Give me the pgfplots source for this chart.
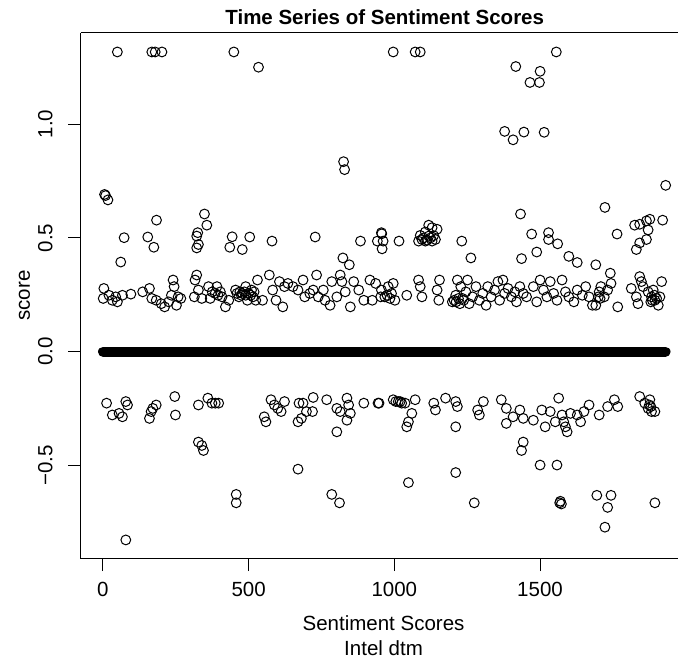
\documentclass[border=0pt]{standalone}
\usepackage{fontspec}
\setmainfont{Liberation Sans}
\usepackage{graphicx}
\usepackage{pgfplots}
\pgfplotsset{compat=1.18}
\newcommand\rfont{\fontsize{10.25}{12.5}\selectfont}

\begin{document}
\begin{tikzpicture}
% page = the 678x660 px frame, 1 px = 0.5 pt
\useasboundingbox (-40.35pt,-50.65pt) rectangle (298.65pt,279.35pt);
\begin{axis}[
    at={(0,0)}, anchor=south west,
    scale only axis,
    width=298.65pt, height=263.1pt,
    xmin=-76.2, xmax=1973.4,
    ymin=-0.9095, ymax=1.4025,
    axis x line=box,
    axis y line=left,
    every non boxed y axis/.append style={y axis line style={-}, ytick align=outside},
    every outer y axis line/.append style={-},
    every inner y axis line/.append style={-},
    y axis line style={-},
    axis line style={black, line width=0.5pt},
    tick align=outside,
    xtick pos=left, ytick pos=left,
    major tick length=6.25pt,
    tick style={black, line width=0.5pt},
    xtick={0,500,1000,1500},
    xticklabels={\mbox{0},\mbox{500},\mbox{1000},\mbox{1500}},
    ytick={-0.5,0,0.5,1},
    yticklabels={\rotatebox{90}{−0.5},\rotatebox{90}{0.0},\rotatebox{90}{0.5},\rotatebox{90}{1.0}},
    xticklabel style={font=\rfont, anchor=base, inner sep=0pt, yshift=-12.65pt},
    yticklabel style={font=\rfont, anchor=east, inner sep=0pt, xshift=-7.6pt},
    title={\textbf{Time Series of Sentiment Scores}},
    title style={font=\rfont, at={(axis description cs:0.509,1.01464)}, anchor=base, inner sep=0pt, yshift=-6pt},
    xlabel={Sentiment Scores\\Intel dtm},
    xlabel style={font=\rfont, align=center, at={(axis description cs:0.507,-0.107)}, anchor=north, inner sep=0pt},
    ylabel={score},
    ylabel style={font=\rfont, at={(axis description cs:-0.08488,0.5)}, anchor=base, inner sep=0pt},
]
% the run of zero scores
\addplot[black, line width=5.2pt, line cap=round] coordinates {(1,0) (1930,0)};
% non-zero scores
\addplot[only marks, mark=o, mark size=2.45pt, black, mark options={line width=0.5pt}] table {
x y
49.6 1.317
167.8 1.317
179.4 1.317
202.6 1.317
449.3 1.317
533.9 1.250
825.8 0.835
829.3 0.800
5.6 0.691
9.1 0.686
17.2 0.667
348.5 0.605
184.0 0.578
356.6 0.556
325.4 0.523
321.9 0.508
327.7 0.471
321.9 0.456
72.8 0.501
153.9 0.504
174.8 0.459
443.5 0.505
435.4 0.459
478.3 0.449
503.8 0.504
580.2 0.486
728.5 0.504
61.2 0.394
823.5 0.412
845.5 0.382
883.8 0.486
941.7 0.486
956.7 0.518
3.3 0.278
1.0 0.234
20.7 0.248
32.3 0.226
43.8 0.241
49.6 0.219
67.0 0.248
96.0 0.253
136.5 0.263
159.7 0.278
167.8 0.234
182.9 0.226
200.2 0.211
211.8 0.197
225.7 0.219
235.0 0.248
240.8 0.315
244.3 0.286
252.4 0.204
258.2 0.241
267.4 0.234
316.1 0.315
321.9 0.337
313.8 0.241
327.7 0.271
339.3 0.234
362.4 0.286
368.2 0.234
375.0 0.263
385.0 0.256
395.0 0.248
391.4 0.286
403.0 0.263
408.8 0.241
420.4 0.197
431.9 0.226
455.1 0.271
460.0 0.256
466.7 0.241
470.0 0.263
475.0 0.248
478.3 0.256
485.0 0.263
489.9 0.286
490.0 0.248
495.7 0.226
500.0 0.256
507.3 0.248
510.0 0.271
515.0 0.241
518.8 0.263
530.4 0.315
524.6 0.226
547.8 0.226
571.0 0.337
582.5 0.271
594.1 0.226
605.7 0.308
617.3 0.197
623.1 0.286
634.7 0.300
652.1 0.286
669.5 0.271
686.8 0.315
692.6 0.241
710.0 0.256
721.6 0.271
733.2 0.337
738.9 0.241
756.3 0.271
762.1 0.226
779.5 0.204
785.3 0.308
802.7 0.241
814.3 0.337
820.1 0.308
831.6 0.263
849.0 0.197
860.6 0.308
877.9 0.271
895.3 0.226
916.2 0.315
924.3 0.226
935.9 0.300
953.3 0.241
12.6 -0.226
32.3 -0.278
55.4 -0.271
67.0 -0.286
78.6 -0.219
84.4 -0.234
159.7 -0.293
165.5 -0.263
171.3 -0.249
182.9 -0.234
246.6 -0.197
248.9 -0.278
327.7 -0.234
360.1 -0.204
374.0 -0.226
385.6 -0.226
397.2 -0.226
553.6 -0.286
559.4 -0.308
576.8 -0.211
588.3 -0.234
599.9 -0.249
611.5 -0.263
623.1 -0.219
669.5 -0.308
672.9 -0.226
681.0 -0.293
686.8 -0.226
698.4 -0.263
719.2 -0.263
721.6 -0.201
767.9 -0.211
802.7 -0.249
814.3 -0.263
837.4 -0.204
843.2 -0.234
849.0 -0.271
837.4 -0.301
895.3 -0.226
947.5 -0.226
802.7 -0.352
327.7 -0.397
339.3 -0.412
345.1 -0.434
669.5 -0.516
457.4 -0.627
457.4 -0.664
785.3 -0.627
811.9 -0.664
78.6 -0.827
996.2 1.317
1071.5 1.317
1088.9 1.317
1555.8 1.317
1416.8 1.253
1500.2 1.232
1497.9 1.183
1465.4 1.183
1378.5 0.968
1407.5 0.931
1444.6 0.965
1514.1 0.964
1931.1 0.731
1722.6 0.634
1433.0 0.605
1824.6 0.556
1841.9 0.560
1865.1 0.575
1876.7 0.582
1920.7 0.578
1870.9 0.535
1865.1 0.493
1841.9 0.478
1830.4 0.449
1764.3 0.517
1471.2 0.517
1529.1 0.523
1529.1 0.493
1560.4 0.474
1488.6 0.438
1436.5 0.409
1598.7 0.419
1627.6 0.392
1691.3 0.382
1262.7 0.412
1231.4 0.486
1016.0 0.486
955.7 0.523
961.5 0.486
958.0 0.452
1083.1 0.486
1094.7 0.493
1106.3 0.486
1117.9 0.508
1129.5 0.486
1141.0 0.493
1117.9 0.556
1129.5 0.545
1146.8 0.538
1088.9 0.511
1106.3 0.526
1100.0 0.500
1112.0 0.490
1124.0 0.500
1135.0 0.510
955.7 0.271
967.3 0.241
975.0 0.248
978.9 0.286
985.0 0.234
990.4 0.256
996.2 0.300
1002.0 0.226
1042.6 0.248
1083.1 0.315
1088.9 0.286
1094.7 0.241
1146.8 0.271
1152.6 0.226
1155.0 0.315
1199.0 0.219
1205.0 0.226
1210.6 0.248
1212.0 0.219
1216.3 0.315
1220.0 0.234
1225.0 0.211
1227.9 0.286
1233.7 0.234
1238.0 0.226
1245.3 0.263
1251.1 0.315
1256.9 0.211
1268.5 0.241
1280.1 0.286
1291.7 0.226
1303.2 0.256
1314.8 0.204
1320.6 0.286
1332.2 0.241
1343.8 0.271
1355.4 0.308
1361.2 0.226
1372.7 0.315
1378.5 0.256
1390.1 0.278
1401.7 0.241
1413.3 0.263
1419.1 0.219
1430.7 0.286
1442.3 0.256
1453.8 0.241
1477.0 0.286
1488.6 0.219
1500.2 0.315
1511.8 0.271
1523.4 0.241
1534.9 0.308
1546.5 0.256
1558.1 0.226
1575.5 0.315
1587.1 0.263
1598.7 0.241
1616.0 0.219
1627.6 0.271
1645.0 0.248
1656.6 0.286
1668.2 0.241
1679.7 0.204
1691.3 0.204
1700.0 0.241
1702.9 0.263
1706.0 0.234
1708.7 0.286
1720.3 0.241
1731.9 0.271
1741.1 0.345
1743.5 0.300
1766.6 0.197
1813.0 0.278
1830.4 0.241
1836.1 0.211
1841.9 0.330
1847.7 0.308
1853.5 0.286
1870.9 0.263
1880.0 0.219
1882.5 0.241
1885.0 0.226
1888.3 0.271
1893.0 0.248
1894.1 0.226
1900.0 0.234
1905.7 0.204
1911.4 0.241
1917.2 0.308
944.1 -0.226
996.2 -0.211
1005.0 -0.219
1013.6 -0.219
1020.0 -0.219
1025.2 -0.226
1036.8 -0.226
1071.5 -0.211
1060.0 -0.271
1048.4 -0.308
1042.6 -0.330
1135.3 -0.226
1141.0 -0.256
1175.8 -0.204
1210.6 -0.219
1216.3 -0.241
1210.6 -0.330
1285.9 -0.256
1291.7 -0.278
1305.6 -0.219
1367.0 -0.211
1384.3 -0.249
1384.3 -0.315
1407.5 -0.286
1430.7 -0.256
1442.3 -0.293
1477.0 -0.301
1506.0 -0.256
1517.6 -0.330
1534.9 -0.263
1552.3 -0.308
1563.9 -0.204
1575.5 -0.278
1581.3 -0.308
1587.1 -0.330
1592.9 -0.352
1604.4 -0.271
1627.6 -0.278
1639.2 -0.308
1650.8 -0.263
1668.2 -0.234
1702.9 -0.278
1731.9 -0.241
1755.1 -0.211
1766.6 -0.241
1841.9 -0.197
1859.3 -0.226
1870.9 -0.249
1875.0 -0.234
1876.7 -0.211
1880.0 -0.241
1882.5 -0.263
1894.1 -0.263
1442.3 -0.397
1436.5 -0.434
1500.2 -0.498
1558.1 -0.498
1048.4 -0.575
1210.6 -0.531
1274.3 -0.664
1569.7 -0.657
1573.2 -0.669
1567.4 -0.664
1694.8 -0.631
1743.5 -0.631
1731.9 -0.684
1894.1 -0.664
1722.6 -0.771
};
\end{axis}
\end{tikzpicture}
\end{document}
